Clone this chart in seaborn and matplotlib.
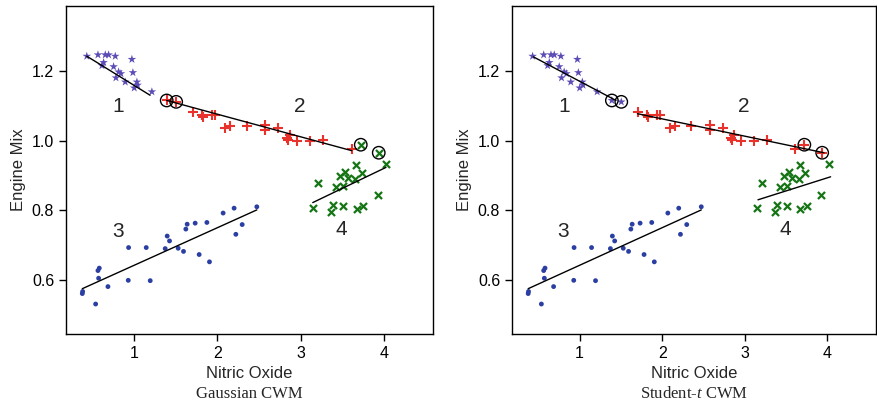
import numpy as np
import pandas as pd
import matplotlib
matplotlib.use("Agg")
import matplotlib.pyplot as plt
import seaborn as sns

# ---- data ----
g1_x = [0.43, 0.564, 0.652, 0.692, 0.772, 0.972, 0.632, 0.612, 0.752, 0.812, 0.84, 0.984,
        0.78, 0.892, 1.032, 1.04, 1.0, 1.212]
g1_y = [1.242, 1.246, 1.246, 1.246, 1.242, 1.233, 1.224, 1.215, 1.212, 1.197, 1.192, 1.195,
        1.18, 1.168, 1.168, 1.159, 1.151, 1.14]

g2_x = [1.712, 1.812, 1.832, 1.932, 1.972, 2.092, 2.152, 2.353, 2.573, 2.573, 2.732, 2.833,
        2.873, 2.845, 2.953, 3.113, 3.273, 3.613]
g2_y = [1.082, 1.072, 1.067, 1.072, 1.072, 1.037, 1.043, 1.043, 1.046, 1.029, 1.036, 1.008,
        1.016, 1.002, 1.0, 1.0, 1.003, 0.976]

g3_x = [0.376, 0.38, 0.536, 0.572, 0.564, 0.58, 0.684, 0.932, 0.928, 1.144, 1.192, 1.396,
        1.424, 1.372, 1.528, 1.592, 1.62, 1.636, 1.732, 1.873, 1.78, 1.904, 2.068, 2.2,
        2.221, 2.297, 2.473]
g3_y = [0.561, 0.567, 0.531, 0.605, 0.627, 0.634, 0.581, 0.693, 0.599, 0.693, 0.598, 0.726,
        0.712, 0.690, 0.691, 0.682, 0.746, 0.76, 0.763, 0.765, 0.673, 0.652, 0.792, 0.806,
        0.731, 0.759, 0.81]

g4_x = [3.205, 3.145, 3.361, 3.385, 3.513, 3.673, 3.753, 3.926, 3.421, 3.513, 3.473, 3.533,
        3.573, 3.653, 3.665, 3.733, 4.025]
g4_y = [0.877, 0.806, 0.795, 0.815, 0.811, 0.803, 0.811, 0.844, 0.866, 0.87, 0.899, 0.911,
        0.892, 0.89, 0.93, 0.906, 0.933]

# points whose cluster differs between the two models (circled)
sp_x = [1.39, 1.504, 3.722, 3.938]
sp_y = [1.115, 1.111, 0.988, 0.965]
sp_cluster_gauss = [2, 2, 4, 4]
sp_cluster_t = [1, 1, 2, 2]

# fitted component regression lines (x endpoints, y endpoints)
gauss_lines = {1: ([0.43, 1.19], [1.242, 1.13]),
               2: ([1.39, 3.613], [1.115, 0.971]),
               3: ([0.376, 2.473], [0.575, 0.801]),
               4: ([3.145, 4.025], [0.822, 0.923])}
t_lines = {1: ([0.44, 1.44], [1.24, 1.115]),
           2: ([1.70, 3.96], [1.077, 0.965]),
           3: ([0.376, 2.473], [0.575, 0.801]),
           4: ([3.16, 4.04], [0.83, 0.896])}

label_pos = {1: (0.81, 1.097), 2: (2.99, 1.097), 3: (0.80, 0.74), 4: (3.49, 0.745)}
x_ticks = [1, 2, 3, 4]
y_ticks = [0.6, 0.8, 1.0, 1.2]
titles = ["Gaussian CWM", "Student-$t$ CWM"]

# ---- style ----
sns.set_style("ticks")
plt.rcParams["font.family"] = ["Liberation Sans", "DejaVu Sans"]
plt.rcParams["mathtext.fontset"] = "custom"
plt.rcParams["mathtext.it"] = "Liberation Serif:italic"
plt.rcParams["mathtext.rm"] = "Liberation Serif"

styles = {1: dict(marker="*", color="#5b4db5", s=42, linewidth=0),
          2: dict(marker="+", color="#e8322b", s=42, linewidth=1.5),
          3: dict(marker="o", color="#2b3fa3", s=12, linewidth=0),
          4: dict(marker="x", color="#157515", s=26, linewidth=1.6)}

base = {1: (g1_x, g1_y), 2: (g2_x, g2_y), 3: (g3_x, g3_y), 4: (g4_x, g4_y)}

fig = plt.figure(figsize=(8.78, 4.08), dpi=100)
ax_l = fig.add_axes([66 / 878, 74 / 408, 367 / 878, 328 / 408])
ax_r = fig.add_axes([512 / 878, 74 / 408, 364 / 878, 328 / 408])

for ax, sp_cl, lines, title in [(ax_l, sp_cluster_gauss, gauss_lines, titles[0]),
                                (ax_r, sp_cluster_t, t_lines, titles[1])]:
    for k in [1, 2, 3, 4]:
        xs = list(base[k][0]) + [x for x, c in zip(sp_x, sp_cl) if c == k]
        ys = list(base[k][1]) + [y for y, c in zip(sp_y, sp_cl) if c == k]
        df = pd.DataFrame({"x": xs, "y": ys})
        st = styles[k]
        sns.scatterplot(data=df, x="x", y="y", ax=ax, marker=st["marker"], color=st["color"],
                        s=st["s"], linewidth=st["linewidth"], edgecolor=st["color"] if st["linewidth"] else "none",
                        zorder=3)
        lx, ly = lines[k]
        sns.lineplot(x=lx, y=ly, ax=ax, color="black", linewidth=1.0, zorder=4)
        ax.text(label_pos[k][0], label_pos[k][1], str(k), fontsize=15, ha="center", va="center")
    dfc = pd.DataFrame({"x": sp_x, "y": sp_y})
    sns.scatterplot(data=dfc, x="x", y="y", ax=ax, marker="o", s=80, facecolor="none",
                    edgecolor="black", linewidth=1.0, zorder=5)
    ax.set_xlim(0.18, 4.59)
    ax.set_ylim(0.445, 1.386)
    ax.set_xticks(x_ticks)
    ax.set_yticks(y_ticks)
    ax.set_yticklabels([f"{v:.1f}" for v in y_ticks])
    ax.tick_params(direction="out", length=5, width=1, labelsize=11.5, colors="black")
    for s in ax.spines.values():
        s.set_visible(True)
        s.set_linewidth(1.0)
        s.set_color("black")
    ax.set_xlabel("Nitric Oxide", fontsize=12, labelpad=4)
    ax.set_ylabel("Engine Mix", fontsize=12, labelpad=4)
    ax.text(0.5, -0.16, title, transform=ax.transAxes, ha="center", va="top",
            fontsize=12, family="Liberation Serif")

fig.savefig("out.png", dpi=100)
